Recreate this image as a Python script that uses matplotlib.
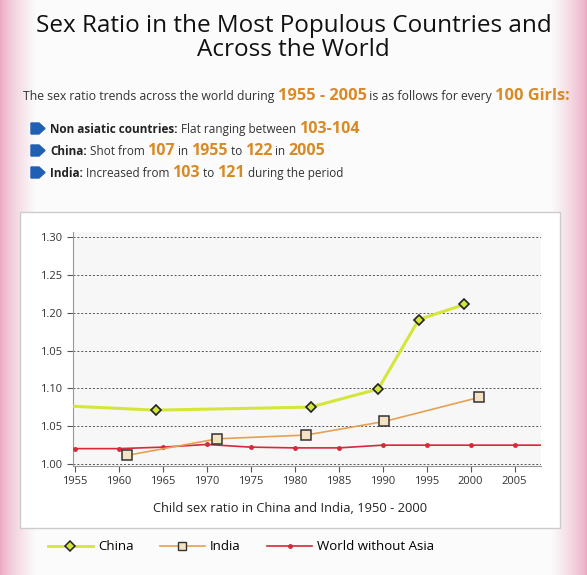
import matplotlib.pyplot as plt
import numpy as np
from matplotlib.patches import Polygon, Rectangle
from matplotlib.lines import Line2D

plt.rcParams["font.family"] = ["Open Sans", "DejaVu Sans"]

W, H = 587, 575
ORANGE = "#d98a24"

china_years = [1955, 1964.2, 1981.8, 1989.5, 1994.1, 1999.3]
china_ratio = [1.076, 1.071, 1.075, 1.099, 1.191, 1.211]
china_marked = [False, True, True, True, True, True]

india_years = [1960.9, 1971.2, 1981.3, 1990.2, 2001.0]
india_ratio = [1.011, 1.033, 1.038, 1.056, 1.088]

world_years = [1955, 1960, 1965, 1970, 1975, 1980, 1985, 1990, 1995, 2000, 2005]
world_ratio = [1.020, 1.020, 1.022, 1.0255, 1.022, 1.021, 1.021, 1.0246, 1.0246, 1.0246, 1.0246]

x_ticks = [1955, 1960, 1965, 1970, 1975, 1980, 1985, 1990, 1995, 2000, 2005]
y_ticks = [1.00, 1.05, 1.10, 1.15, 1.20, 1.25, 1.30]
y_tick_labels = ["1.00", "1.05", "1.10", "1.05", "1.20", "1.25", "1.30"]

fig = plt.figure(figsize=(W / 100, H / 100), dpi=100)

# soft pink border background
bg = fig.add_axes([0, 0, 1, 1])
xs = np.linspace(0, W, W)
d = np.minimum(xs, W - xs)
fade = np.clip(d / 35.0, 0, 1)[None, :] ** 0.7
pink = np.array([0.92, 0.66, 0.76])
white = np.array([0.985, 0.985, 0.985])
img = pink[None, None, :] * (1 - fade[..., None]) + white[None, None, :] * fade[..., None]
img = np.repeat(img, 2, axis=0)
bg.imshow(img, aspect="auto", extent=[0, W, 0, H])
bg.set_xlim(0, W)
bg.set_ylim(0, H)
bg.axis("off")

# chart panel
bg.add_patch(Rectangle((20, H - 528), 540, 316, facecolor="white", edgecolor="#cccccc", lw=1))

bg.text(W / 2, H - 38, "Sex Ratio in the Most Populous Countries and\nAcross the World",
        ha="center", va="center", fontsize=17.5, linespacing=1.0, color="#111111")

renderer = fig.canvas.get_renderer()


def run_text(x, y, pieces):
    for txt, size, color, weight in pieces:
        t = bg.text(x, y, txt, fontsize=size, color=color, fontweight=weight, va="baseline", ha="left")
        bb = t.get_window_extent(renderer=renderer)
        x += bb.width


run_text(23, H - 100, [
    ("The sex ratio trends across the world during ", 8.8, "#333333", "normal"),
    ("1955 - 2005", 11.8, ORANGE, "bold"),
    (" is as follows for every ", 8.8, "#333333", "normal"),
    ("100 Girls:", 11.8, ORANGE, "bold"),
])

bullets = [
    [("Non asiatic countries:", 8.5, "#222222", "bold"), (" Flat ranging between ", 8.5, "#333333", "normal"),
     ("103-104", 11.5, ORANGE, "bold")],
    [("China:", 8.5, "#222222", "bold"), (" Shot from ", 8.5, "#333333", "normal"), ("107", 11.5, ORANGE, "bold"),
     (" in ", 8.5, "#333333", "normal"), ("1955", 11.5, ORANGE, "bold"), (" to ", 8.5, "#333333", "normal"),
     ("122", 11.5, ORANGE, "bold"), (" in ", 8.5, "#333333", "normal"), ("2005", 11.5, ORANGE, "bold")],
    [("India:", 8.5, "#222222", "bold"), (" Increased from ", 8.5, "#333333", "normal"),
     ("103", 11.5, ORANGE, "bold"), (" to ", 8.5, "#333333", "normal"), ("121", 11.5, ORANGE, "bold"),
     (" during the period", 8.5, "#333333", "normal")],
]
for i, pieces in enumerate(bullets):
    yb = H - 133 - i * 22
    bg.add_patch(Polygon([(31, yb - 1), (39, yb - 1), (45, yb + 4.5), (39, yb + 10), (31, yb + 10)],
                         closed=True, color="#1f5fb4"))
    run_text(50, yb, pieces)

bg.text(290, H - 508, "Child sex ratio in China and India, 1950 - 2000", ha="center", va="center",
        fontsize=9.3, color="#222222")

# main chart
ax = fig.add_axes([73 / W, (H - 466) / H, (541 - 73) / W, (466 - 232) / H])
ax.set_facecolor("#f7f7f7")
ax.plot(world_years + [2008], world_ratio + [world_ratio[-1]], color="#d42a3a", lw=1.2, zorder=2)
ax.plot(world_years, world_ratio, ls="none", marker="o", ms=2.5, color="#d42a3a", zorder=3)
ax.plot(india_years, india_ratio, color="#e8a050", lw=1.2, marker="s", ms=6.5,
        mfc="#f3e2c4", mec="#333333", mew=1.1, zorder=4)
ax.plot(china_years, china_ratio, color="#d4e63a", lw=2.2, zorder=5)
ax.plot([x for x, m in zip(china_years, china_marked) if m],
        [y for y, m in zip(china_ratio, china_marked) if m],
        ls="none", marker="D", ms=5.5, mfc="#d4e63a", mec="#222222", mew=1.2, zorder=6)

ax.set_xlim(1954.8, 2008)
ax.set_ylim(0.997, 1.307)
ax.set_xticks(x_ticks)
ax.set_yticks(y_ticks)
ax.set_yticklabels(y_tick_labels)
ax.tick_params(labelsize=8, colors="#555555", labelcolor="#333333", length=4)
ax.yaxis.grid(True, ls=(0, (2, 2)), color="#555555", lw=0.7)
for s in ["top", "right"]:
    ax.spines[s].set_visible(False)
for s in ["left", "bottom"]:
    ax.spines[s].set_color("#999999")

handles = [
    Line2D([], [], color="#d4e63a", lw=2, marker="D", ms=5, mfc="#d4e63a", mec="#222222", mew=1.1),
    Line2D([], [], color="#e8a050", lw=1.2, marker="s", ms=6, mfc="#f3e2c4", mec="#333333", mew=1.0),
    Line2D([], [], color="#d42a3a", lw=1.2, marker="o", ms=2.5),
]
fig.legend(handles, ["China", "India", "World without Asia"], loc="center left",
           bbox_to_anchor=(36 / W, 1 - 547 / H), ncol=3, frameon=False, fontsize=9.5,
           handlelength=3.4, columnspacing=2.0, handletextpad=0.4)

fig.savefig("out.png", dpi=100)
